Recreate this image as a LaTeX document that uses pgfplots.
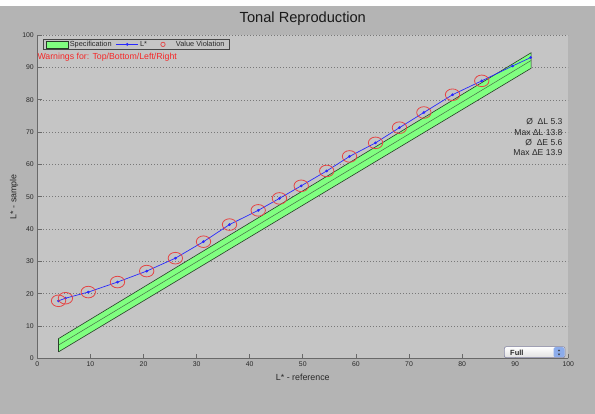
\documentclass[border=0pt]{standalone}
\usepackage{pgfplots}
\pgfplotsset{compat=1.18}
\usepackage{fontspec}
\setmainfont{Liberation Sans}

\definecolor{figbg}{RGB}{180,180,180}
\definecolor{axbg}{RGB}{197,197,197}
\definecolor{axgray}{RGB}{105,105,105}
\definecolor{gridgray}{RGB}{120,120,120}
\definecolor{txtgray}{RGB}{40,40,40}
\definecolor{leggray}{RGB}{70,70,70}
\definecolor{specgreen}{RGB}{128,255,128}
\definecolor{specedge}{RGB}{40,60,40}
\definecolor{centergreen}{RGB}{70,110,70}
\definecolor{lblue}{RGB}{40,40,255}
\definecolor{vred}{RGB}{228,70,70}
\definecolor{warnred}{RGB}{245,40,40}
\definecolor{btnedge}{RGB}{130,130,160}
\definecolor{stepblue}{RGB}{140,172,235}

% wide red ring used for the violations
\pgfdeclareplotmark{ellip}{%
  \pgfpathellipse{\pgfpointorigin}{\pgfqpoint{7.2bp}{0pt}}{\pgfqpoint{0pt}{5.8bp}}%
  \pgfusepathqstroke}

\pgfplotstableread{
x y
4.0 17.8
5.3 18.6
9.6 20.5
15.1 23.6
20.6 27.0
26.0 31.0
31.3 36.1
36.2 41.4
41.6 45.8
45.6 49.5
49.7 53.4
54.5 58.0
58.8 62.5
63.7 66.7
68.2 71.4
72.8 76.1
78.2 81.6
83.7 85.9
89.5 90.5
92.9 93.1
}\lstar

\pgfplotstableread{
x y
4.0 17.8
5.3 18.6
9.6 20.5
15.1 23.6
20.6 27.0
26.0 31.0
31.3 36.1
36.2 41.4
41.6 45.8
45.6 49.5
49.7 53.4
54.5 58.0
58.8 62.5
63.7 66.7
68.2 71.4
72.8 76.1
78.2 81.6
83.7 85.9
}\viol

\begin{document}
\begin{tikzpicture}
\fill[white] (0bp,0bp) rectangle (595bp,414bp);
\fill[figbg] (0bp,0bp) rectangle (595bp,408bp);
\begin{axis}[
  at={(37.3bp,55.7bp)}, anchor=south west,
  scale only axis, width=531bp, height=323bp,
  xmin=0, xmax=100, ymin=0, ymax=100,
  xtick={0,10,...,100}, ytick={0,10,...,100},
  axis x line*=bottom, axis y line*=left,
  axis line style={draw=axgray, line width=1.2bp},
  tick align=inside, major tick length=4.5bp,
  tick style={draw=axgray, line width=0.8bp},
  ymajorgrids,
  major grid style={draw=gridgray, dash pattern=on 1bp off 2bp, line width=0.7bp},
  axis background/.style={fill=axbg},
  /pgf/number format/assume math mode=true,
  ticklabel style={font=\fontsize{6.9}{8}\selectfont, text=txtgray},
  xlabel={L* - reference}, ylabel={L* - sample},
  every axis x label/.style={at={(axis description cs:0.5,0)}, anchor=center,
    yshift=-18.7bp, font=\fontsize{8.9}{10}\selectfont, text=txtgray},
  every axis y label/.style={at={([xshift=-23.3bp]axis description cs:0,0.5)},
    anchor=center, rotate=90, font=\fontsize{8.9}{10}\selectfont, text=txtgray},
  title={Tonal Reproduction},
  every axis title shift=0pt,
  title style={at={(axis description cs:0.5,1)}, anchor=center, yshift=17bp,
    font=\fontsize{14.7}{16}\selectfont, text=black!90},
  legend style={
    at={(axis description cs:0.0102,0.9898)}, anchor=north west,
    fill=axbg, draw=leggray, line width=0.8bp,
    font=\fontsize{7.4}{8}\selectfont, text=txtgray,
    legend columns=-1, inner xsep=3bp, inner ysep=0.5bp,
    /tikz/every even column/.append style={column sep=3bp},
    nodes={inner xsep=1.5bp, inner ysep=1.5bp},
  },
]
\addplot[fill=specgreen, draw=specedge, line width=0.6bp,
  legend image code/.code={\draw[fill=specgreen, draw=specedge, line width=0.6bp]
    (0bp,-3.6bp) rectangle (21.6bp,3.6bp);}]
  coordinates {(4,2) (93,89.8) (93,94.6) (4,6.1) (4,2)};
\addlegendentry{Specification}
\addplot[draw=centergreen, line width=0.5bp, forget plot]
  coordinates {(4,4.1) (93,92.2)};
\addplot[lblue, line width=0.7bp, mark=*, mark size=1bp,
  mark options={fill=lblue, draw=lblue},
  legend image code/.code={\draw[lblue, line width=0.7bp] (0bp,0bp) -- (21.7bp,0bp);
    \fill[lblue] (10.8bp,0bp) circle (1bp);}]
  table[x=x, y=y] {\lstar};
\addlegendentry{L*}
\addplot[only marks, vred, mark=ellip, mark options={line width=0.8bp},
  legend image code/.code={\path[draw=none, fill=none] (0bp,0bp) (23bp,0bp);
    \draw[vred, line width=0.7bp, fill=none] (11.5bp,0bp) circle (2.2bp);}]
  table[x=x, y=y] {\viol};
\addlegendentry{Value Violation}
\end{axis}

\node[anchor=west, inner sep=0pt, text=warnred, font=\fontsize{8.8}{10}\selectfont]
  at (37.3bp,356.7bp) {Warnings for: Top/Bottom/Left/Right};

\begin{scope}[every node/.style={anchor=base east, inner sep=0pt, text=txtgray,
    font=\fontsize{8.6}{10}\selectfont}]
\node at (562.7bp,289.2bp) {Ø\ \ ΔL 5.3};
\node at (562.7bp,278.6bp) {Max ΔL 13.8};
\node at (562.7bp,268.6bp) {Ø\ \ ΔE 5.6};
\node at (562.7bp,258.2bp) {Max ΔE 13.9};
\end{scope}

% popup menu
\shade[top color=white, bottom color=black!12, draw=btnedge, line width=0.6bp,
  rounded corners=2bp] (504.3bp,56.3bp) rectangle (565bp,67.3bp);
\fill[stepblue, rounded corners=2bp] (553.5bp,56.8bp) rectangle (564.5bp,66.8bp);
\fill[black!80] (559bp,64.6bp) -- (557.8bp,62.8bp) -- (560.2bp,62.8bp) -- cycle;
\fill[black!80] (559bp,58.6bp) -- (557.8bp,60.4bp) -- (560.2bp,60.4bp) -- cycle;
\node[anchor=west, inner sep=0pt, text=black!85, font=\fontsize{7.5}{8}\selectfont\bfseries]
  at (510bp,61.6bp) {Full};
\end{tikzpicture}
\end{document}
